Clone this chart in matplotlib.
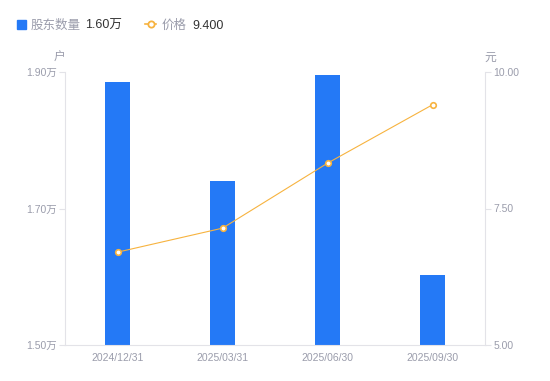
import matplotlib.pyplot as plt
from matplotlib.lines import Line2D

plt.rcParams['font.family'] = ['Liberation Sans', 'Noto Sans CJK SC', 'DejaVu Sans']

dates = ["2024/12/31", "2025/03/31", "2025/06/30", "2025/09/30"]
holders = [1.885, 1.740, 1.896, 1.602]   # 万户
prices = [6.70, 7.14, 8.33, 9.40]         # 元
left_ticks = [1.50, 1.70, 1.90]
right_ticks = [5.00, 7.50, 10.00]

BLUE = "#2479F6"
ORANGE = "#F7B33F"
GRAY = "#9A9CAB"
AXIS = "#E3E3E8"

fig = plt.figure(figsize=(5.5, 3.81), dpi=100)
ax = fig.add_axes([65 / 550, 36 / 381, 420 / 550, 273 / 381])
ax2 = ax.twinx()

x = list(range(len(dates)))
ax.bar(x, holders, width=0.24, color=BLUE, zorder=2)
ax.set_xlim(-0.5, len(dates) - 0.5)
ax.set_ylim(1.50, 1.90)
ax.set_yticks(left_ticks)
ax.set_yticklabels([f"{v:.2f}万" for v in left_ticks])
ax.set_xticks(x)
ax.set_xticklabels(dates)

ax2.plot(x, prices, color=ORANGE, lw=0.8, marker="o", ms=4,
         mfc="white", mec=ORANGE, mew=1.2, zorder=3)
ax2.set_ylim(5.0, 10.0)
ax2.set_yticks(right_ticks)
ax2.set_yticklabels([f"{v:.2f}" for v in right_ticks])

for a in (ax, ax2):
    for s in a.spines.values():
        s.set_visible(False)
    a.tick_params(colors=GRAY, labelsize=7.5, length=4, width=0.8)
    a.tick_params(axis="y", color=AXIS)
ax.spines["left"].set_visible(True)
ax.spines["left"].set_color(AXIS)
ax.spines["bottom"].set_visible(True)
ax.spines["bottom"].set_color(AXIS)
ax2.spines["right"].set_visible(True)
ax2.spines["right"].set_color(AXIS)
ax.tick_params(axis="x", length=0, pad=6)
ax.tick_params(axis="y", pad=2)
ax2.tick_params(axis="y", pad=2)

fig.text(59 / 550, 1 - 58 / 381, "户", color=GRAY, fontsize=8.5, ha="center", va="center")
fig.text(490 / 550, 1 - 58 / 381, "元", color=GRAY, fontsize=8.5, ha="center", va="center")

# legend
ly = 1 - 24 / 381
ty = 1 - 26 / 381
fig.patches.append(plt.Rectangle((17 / 550, 1 - 29 / 381), 9 / 550, 9 / 381,
                                 transform=fig.transFigure, color=BLUE))
fig.text(31 / 550, ty, "股东数量", color=GRAY, fontsize=9, va="center")
fig.text(85 / 550, ty, "1.60万", color="#333333", fontsize=9, va="center")
fig.lines.append(Line2D([145 / 550, 156 / 550], [ly, ly],
                        transform=fig.transFigure, color=ORANGE, lw=1.2))
fig.lines.append(Line2D([150.5 / 550], [ly], transform=fig.transFigure,
                        color=ORANGE, marker="o", ms=4.5, mfc="white", mew=1.3))
fig.text(162 / 550, ty, "价格", color=GRAY, fontsize=9, va="center")
fig.text(192 / 550, ty, "9.400", color="#333333", fontsize=9, va="center")

fig.savefig("out.png", dpi=100)
